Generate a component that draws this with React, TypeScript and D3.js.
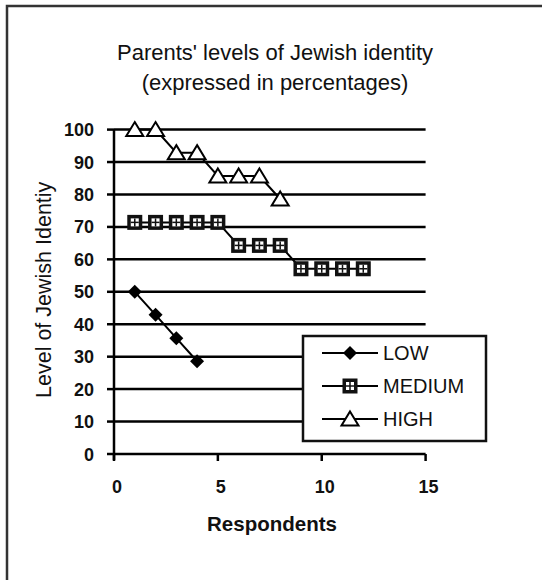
import React from "react";
import * as d3 from "d3";

const lowX = [1, 2, 3, 4];
const lowValues = [50, 42.9, 35.7, 28.6];
const mediumX = [1, 2, 3, 4, 5, 6, 7, 8, 9, 10, 11, 12];
const mediumValues = [71.4, 71.4, 71.4, 71.4, 71.4, 64.3, 64.3, 64.3, 57.1, 57.1, 57.1, 57.1];
const highX = [1, 2, 3, 4, 5, 6, 7, 8];
const highValues = [100, 100, 92.9, 92.9, 85.7, 85.7, 85.7, 78.6];
const yTicks = [0, 10, 20, 30, 40, 50, 60, 70, 80, 90, 100];
const xTicks = [0, 5, 10, 15];
const seriesNames = ["LOW", "MEDIUM", "HIGH"];

const font = "'Liberation Sans', Arial, sans-serif";

type Pt = [number, number];

function Marker({ kind, x, y }: { kind: string; x: number; y: number }) {
  if (kind === "LOW") {
    const r = 7;
    return <path d={`M${x},${y - r}L${x + r},${y}L${x},${y + r}L${x - r},${y}Z`} fill="#000" />;
  }
  if (kind === "MEDIUM") {
    return (
      <g>
        <rect x={x - 7.5} y={y - 7.5} width={15} height={15} fill="#111" />
        <rect x={x - 4} y={y - 4} width={8} height={8} fill="#fff" />
        <line x1={x - 4} x2={x + 4} y1={y} y2={y} stroke="#111" strokeWidth={1.5} />
        <line x1={x} x2={x} y1={y - 4} y2={y + 4} stroke="#111" strokeWidth={1.5} />
      </g>
    );
  }
  return (
    <path
      d={`M${x},${y - 7.5}L${x + 8.5},${y + 6.5}L${x - 8.5},${y + 6.5}Z`}
      fill="#fff"
      stroke="#000"
      strokeWidth={2}
    />
  );
}

export default function App() {
  const x = d3.scaleLinear().domain([0, 15]).range([114, 425.6]);
  const y = d3.scaleLinear().domain([0, 100]).range([454, 129.6]);
  const line = d3
    .line<Pt>()
    .x(d => x(d[0]))
    .y(d => y(d[1]));

  const series = [
    { name: "LOW", pts: lowX.map((v, i) => [v, lowValues[i]] as Pt) },
    { name: "MEDIUM", pts: mediumX.map((v, i) => [v, mediumValues[i]] as Pt) },
    { name: "HIGH", pts: highX.map((v, i) => [v, highValues[i]] as Pt) }
  ];

  const legendX = 303;
  const legendY = 336;

  return (
    <svg
      width={542}
      height={580}
      style={{ position: "absolute", left: 0, top: 0, background: "#fff" }}
      fontFamily={font}
    >
      <rect x={0} y={0} width={542} height={580} fill="#fff" />
      {/* outer frame, runs off the right and bottom */}
      <path d="M7,600L7,6L560,6" fill="none" stroke="#333" strokeWidth={2.5} />

      <text x={275} y={60} textAnchor="middle" fontSize={22} fill="#111">
        Parents' levels of Jewish identity
      </text>
      <text x={275} y={90} textAnchor="middle" fontSize={22} fill="#111">
        (expressed in percentages)
      </text>

      {/* gridlines and y ticks */}
      {yTicks.map(t => (
        <g key={t}>
          <line x1={x(0)} x2={x(15)} y1={y(t)} y2={y(t)} stroke="#000" strokeWidth={2.5} />
          <line x1={x(0) - 7} x2={x(0)} y1={y(t)} y2={y(t)} stroke="#000" strokeWidth={2.5} />
          <text
            x={x(0) - 20}
            y={y(t) + 6.5}
            textAnchor="end"
            fontSize={18}
            fontWeight="bold"
            fill="#111"
          >
            {t}
          </text>
        </g>
      ))}
      {/* axes */}
      <line x1={x(0)} x2={x(0)} y1={y(100)} y2={y(0) + 6} stroke="#000" strokeWidth={2.5} />
      {xTicks.map(t => (
        <g key={t}>
          <line x1={x(t)} x2={x(t)} y1={y(0)} y2={y(0) + 7} stroke="#000" strokeWidth={2.5} />
          <text x={x(t) + 3} y={y(0) + 39} textAnchor="middle" fontSize={18} fontWeight="bold" fill="#111">
            {t}
          </text>
        </g>
      ))}

      <text x={272} y={531} textAnchor="middle" fontSize={20.5} fontWeight="bold" fill="#111">
        Respondents
      </text>
      <text
        transform={`translate(51,${y(50) - 2}) rotate(-90)`}
        textAnchor="middle"
        fontSize={21.5}
        fill="#111"
      >
        Level of Jewish Identiy
      </text>

      {/* series */}
      {series.map(s => (
        <g key={s.name}>
          <path d={line(s.pts) || ""} fill="none" stroke="#000" strokeWidth={2} />
          {s.pts.map((p, i) => (
            <Marker key={i} kind={s.name} x={x(p[0])} y={y(p[1])} />
          ))}
        </g>
      ))}

      {/* legend */}
      <rect x={legendX} y={legendY} width={183} height={105} fill="#fff" stroke="#111" strokeWidth={2.5} />
      {seriesNames.map((n, i) => {
        const ly = legendY + 17 + i * 33;
        return (
          <g key={n}>
            <line x1={legendX + 19} x2={legendX + 75} y1={ly} y2={ly} stroke="#000" strokeWidth={2} />
            <Marker kind={n} x={legendX + 47} y={ly} />
            <text x={legendX + 80} y={ly + 7} fontSize={20} fill="#111">
              {n}
            </text>
          </g>
        );
      })}
    </svg>
  );
}
